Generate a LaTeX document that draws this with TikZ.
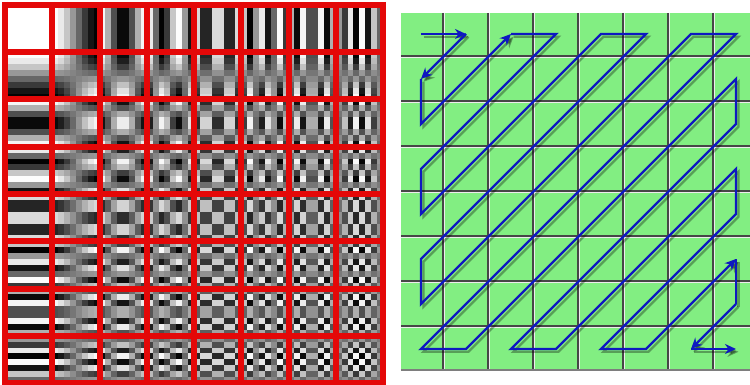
\documentclass[tikz,border=0pt]{standalone}
\usetikzlibrary{arrows.meta}
\definecolor{dctred}{RGB}{228,8,8}
\definecolor{tilegreen}{RGB}{130,238,130}
\definecolor{gapdark}{RGB}{70,70,70}
\definecolor{gaplight}{RGB}{236,236,236}
\definecolor{zzblue}{RGB}{14,24,192}
\tikzset{
  redgrid/.style={draw=dctred, line width=6pt},
  darkgap/.style={draw=gapdark, line width=1.8pt},
  lightgap/.style={draw=gaplight, line width=1.2pt},
  zzline/.style={line width=2.3pt, line join=miter, line cap=butt},
  zzarrow/.style={zzline, -{Stealth[length=11pt,width=10pt,inset=3.5pt]}},
  zzshadow/.style={color=black, opacity=0.33, transform canvas={shift={(2.5pt,-2.8pt)}}},
  zzfront/.style={color=zzblue}
}
\begin{document}
\begin{tikzpicture}[x=1pt,y=-1pt]
\useasboundingbox (0,0) rectangle (750,385);
\clip (0,0) rectangle (750,385);
\fill[white] (0,0) rectangle (750,385);
% ---------- left: DCT basis images ----------
\foreach \r in {0,...,7} {
  \foreach \c in {0,...,7} {
    \foreach \i in {0,...,7} {
      \pgfmathsetmacro\cy{cos((2*\i+1)*\r*11.25)}
      \foreach \j in {0,...,7} {
        \pgfmathsetmacro\g{max(0,min(100,50+50*\cy*cos((2*\j+1)*\c*11.25)))}
        \fill[white!\g!black] (5+47.25*\c+5.90625*\j, 5+47.25*\r+5.90625*\i) rectangle ++(6.0,6.0);
      }
    }
  }
}
\foreach \k in {0,...,8} {
  \draw[redgrid] (5+47.25*\k, 2) -- (5+47.25*\k, 386);
  \draw[redgrid] (2, 5+47.25*\k) -- (386, 5+47.25*\k);
}
% ---------- right: zig-zag scan grid ----------
\fill[tilegreen] (401,13) rectangle (752,370);
\foreach \k in {0,...,6} {
  \draw[lightgap] (444.7+45*\k, 13) -- (444.7+45*\k, 370);
  \draw[lightgap] (401, 57.7+45*\k) -- (752, 57.7+45*\k);
}
\foreach \k in {0,...,6} {
  \draw[darkgap] (443+45*\k, 13) -- (443+45*\k, 370);
  \draw[darkgap] (401, 56+45*\k) -- (752, 56+45*\k);
}
\draw[draw=gapdark!70, line width=1.2pt] (401,370) -- (752,370);
\foreach \r in {0,...,7} {
  \foreach \c in {0,...,7} {
    \coordinate (p\r\c) at (421+45*\c, 34+45*\r);
  }
}
\foreach \sty in {zzshadow, zzfront} {
  \begin{scope}[\sty]
    \draw[zzarrow] (p00) -- (p01);
    \draw[zzarrow] (p01) -- (p10);
    \draw[zzarrow] (p10) -- (p20) -- (p02);
    \draw[zzarrow] (p02) -- (p03) -- (p30) -- (p40) -- (p04) -- (p05) -- (p50)
      -- (p60) -- (p06) -- (p07) -- (p70) -- (p71) -- (p17) -- (p27) -- (p72)
      -- (p73) -- (p37) -- (p47) -- (p74) -- (p75) -- (p57);
    \draw[zzline] (p57) -- (p67);
    \draw[zzarrow] (p67) -- (p76);
    \draw[zzarrow] (p76) -- (p77);
  \end{scope}
}
\end{tikzpicture}
\end{document}
